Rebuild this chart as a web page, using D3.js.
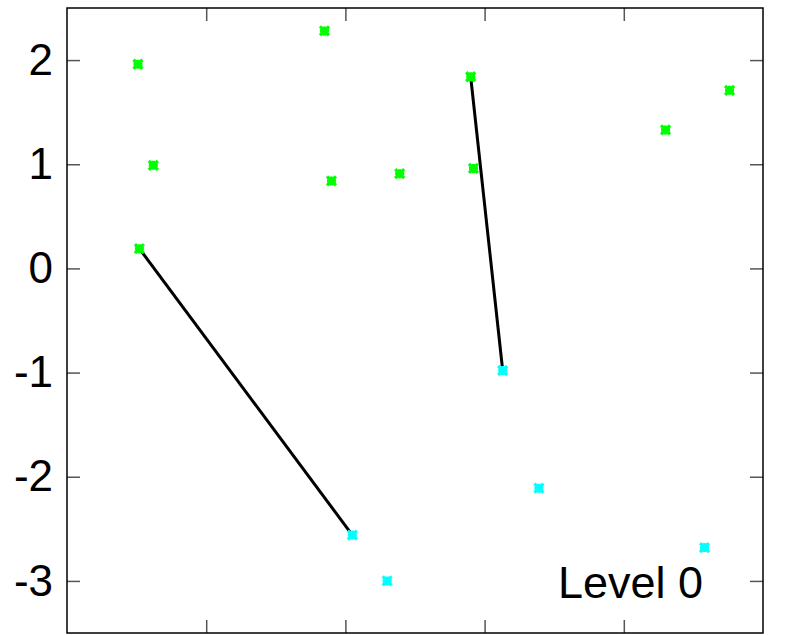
<!DOCTYPE html>
<html>
<head>
<meta charset="utf-8">
<script src="https://cdn.jsdelivr.net/npm/d3@7"></script>
<style>
  body { margin: 0; background: #fff; }
  text { font-family: "Liberation Sans", Arial, sans-serif; }
</style>
</head>
<body>
<div id="chart"></div>
<script>
// green points (level 0, upper group)
var greenX = [0.51, 0.62, 0.52, 1.85, 1.90, 2.39, 2.90, 2.92, 4.30, 4.76];
var greenY = [1.96, 0.99, 0.19, 2.28, 0.84, 0.91, 1.84, 0.96, 1.33, 1.71];
// cyan points (lower group)
var cyanX = [2.05, 2.30, 3.13, 3.39, 4.58];
var cyanY = [-2.56, -3.00, -0.98, -2.11, -2.68];
// links: [green index, cyan index]
var links = [[2, 0], [6, 2]];
var yTicks = [-3, -2, -1, 0, 1, 2];
var xTicks = [1, 2, 3, 4];
var label = "Level 0";

var width = 787, height = 635;
var margin = {top: 8, right: 24, bottom: 2, left: 67};

var svg = d3.select('#chart')
            .append('svg')
            .attr('width', width)
            .attr('height', height);

var x = d3.scaleLinear().domain([0, 5]).range([margin.left, width - margin.right]);
var y = d3.scaleLinear().domain([-3.5, 2.5]).range([height - margin.bottom, margin.top]);

var tickLen = 13;

// ticks inward on all four sides
svg.append('g')
   .attr('transform', 'translate(' + margin.left + ',0)')
   .call(d3.axisLeft(y).tickValues(yTicks).tickSize(-tickLen).tickPadding(14).tickFormat(d => String(d)))
   .call(g => g.select('.domain').remove())
   .call(g => g.selectAll('line').attr('stroke', '#555').attr('stroke-width', 1.5))
   .call(g => g.selectAll('text').attr('font-size', 44).attr('fill', '#000')
                .attr('font-family', '"Liberation Sans", Arial, sans-serif'));

svg.append('g')
   .attr('transform', 'translate(' + (width - margin.right) + ',0)')
   .call(d3.axisRight(y).tickValues(yTicks).tickSize(-tickLen).tickFormat(''))
   .call(g => g.select('.domain').remove())
   .call(g => g.selectAll('line').attr('stroke', '#555').attr('stroke-width', 1.5));

svg.append('g')
   .attr('transform', 'translate(0,' + margin.top + ')')
   .call(d3.axisTop(x).tickValues(xTicks).tickSize(-tickLen).tickFormat(''))
   .call(g => g.select('.domain').remove())
   .call(g => g.selectAll('line').attr('stroke', '#555').attr('stroke-width', 1.5));

svg.append('g')
   .attr('transform', 'translate(0,' + (height - margin.bottom) + ')')
   .call(d3.axisBottom(x).tickValues(xTicks).tickSize(-tickLen).tickFormat(''))
   .call(g => g.select('.domain').remove())
   .call(g => g.selectAll('line').attr('stroke', '#555').attr('stroke-width', 1.5));

// frame
svg.append('rect')
   .attr('x', x(0)).attr('y', y(2.5))
   .attr('width', x(5) - x(0)).attr('height', y(-3.5) - y(2.5))
   .attr('fill', 'none').attr('stroke', '#000').attr('stroke-width', 1.5);

// link lines
svg.selectAll('line.link')
   .data(links)
   .enter()
   .append('line')
   .attr('class', 'link')
   .attr('x1', d => x(greenX[d[0]])).attr('y1', d => y(greenY[d[0]]))
   .attr('x2', d => x(cyanX[d[1]])).attr('y2', d => y(cyanY[d[1]]))
   .attr('stroke', '#000').attr('stroke-width', 3);

// asterisk-like markers
function star(s) {
    return 'M' + (-s) + ',0H' + s + 'M0,' + (-s) + 'V' + s +
           'M' + (-s) + ',' + (-s) + 'L' + s + ',' + s +
           'M' + (-s) + ',' + s + 'L' + s + ',' + (-s);
}

function drawPoints(xs, ys, color) {
    svg.append('g')
       .selectAll('path')
       .data(xs.map((v, i) => [v, ys[i]]))
       .enter()
       .append('path')
       .attr('transform', d => 'translate(' + x(d[0]) + ',' + y(d[1]) + ')')
       .attr('d', star(4.5))
       .attr('stroke', color)
       .attr('stroke-width', 3.2)
       .attr('fill', 'none');
}

drawPoints(greenX, greenY, '#00ff00');
drawPoints(cyanX, cyanY, '#00ffff');

svg.append('text')
   .attr('x', 703).attr('y', 598)
   .attr('text-anchor', 'end')
   .attr('font-size', 45)
   .attr('fill', '#000')
   .text(label);
</script>
</body>
</html>
